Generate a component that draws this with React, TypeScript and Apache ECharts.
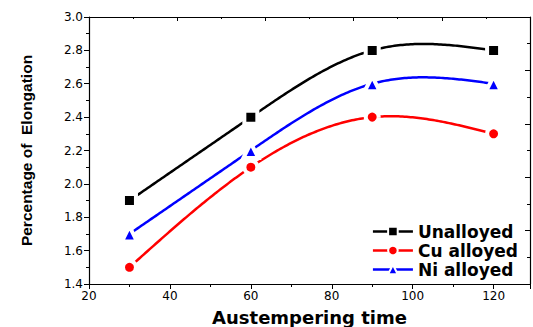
import React, { useEffect, useRef } from "react";
import * as echarts from "echarts";

const times = [30, 60, 90, 120];
const unalloyed = [1.9, 2.4, 2.8, 2.8];
const cuAlloyed = [1.5, 2.1, 2.4, 2.3];
const niAlloyed = [1.7, 2.2, 2.6, 2.6];
const seriesNames = ["Unalloyed", "Cu alloyed", "Ni alloyed"];

const SANS = "Liberation Sans, Arial, sans-serif";
const WIDE = "DejaVu Sans, Verdana, sans-serif";

const pairs = (ys: number[]) => times.map((t, i) => [t, ys[i]]);

// Natural cubic spline through (xs, ys); returns an evaluator.
function naturalSpline(xs: number[], ys: number[]) {
  const n = xs.length;
  const h: number[] = [];
  for (let i = 0; i < n - 1; i++) h.push(xs[i + 1] - xs[i]);
  const m = new Array(n).fill(0);
  const a = new Array(n).fill(0);
  const b = new Array(n).fill(1);
  const c = new Array(n).fill(0);
  const d = new Array(n).fill(0);
  for (let i = 1; i < n - 1; i++) {
    a[i] = h[i - 1];
    b[i] = 2 * (h[i - 1] + h[i]);
    c[i] = h[i];
    d[i] = 6 * ((ys[i + 1] - ys[i]) / h[i] - (ys[i] - ys[i - 1]) / h[i - 1]);
  }
  // Thomas algorithm
  for (let i = 1; i < n; i++) {
    const w = a[i] / b[i - 1];
    b[i] -= w * c[i - 1];
    d[i] -= w * d[i - 1];
  }
  m[n - 1] = d[n - 1] / b[n - 1];
  for (let i = n - 2; i >= 0; i--) m[i] = (d[i] - c[i] * m[i + 1]) / b[i];
  return (x: number) => {
    let k = 0;
    while (k < n - 2 && x > xs[k + 1]) k++;
    const hk = h[k];
    const t1 = xs[k + 1] - x;
    const t0 = x - xs[k];
    return (
      (m[k] * t1 * t1 * t1) / (6 * hk) +
      (m[k + 1] * t0 * t0 * t0) / (6 * hk) +
      (ys[k] / hk - (m[k] * hk) / 6) * t1 +
      (ys[k + 1] / hk - (m[k + 1] * hk) / 6) * t0
    );
  };
}

export default function App() {
  const ref = useRef<HTMLDivElement>(null);
  useEffect(() => {
    if (!ref.current) return;
    const chart = echarts.init(ref.current, null, { renderer: "svg" });
    const axisLine = { show: true, lineStyle: { color: "#000", width: 1.2 } };
    const tickStyle = { color: "#000", width: 1 };

    // Spline curve drawn through the axis scales of the main grid
    const curve = (ys: number[], color: string) => {
      const f = naturalSpline(times, ys);
      return {
        type: "custom",
        xAxisIndex: 0,
        yAxisIndex: 0,
        data: pairs(ys),
        encode: { x: 0, y: 1 },
        silent: true,
        z: 2,
        renderItem: (params: any, api: any) => {
          if (params.dataIndex !== 0) return null;
          const pts: number[][] = [];
          for (let x = times[0]; x <= times[times.length - 1]; x += 0.5) {
            pts.push(api.coord([x, f(x)]));
          }
          return {
            type: "polyline",
            shape: { points: pts },
            style: { stroke: color, lineWidth: 2.5, fill: null },
          };
        },
      };
    };

    const markers = (name: string, ys: number[], color: string, symbol: string, size: number) => ({
      name,
      type: "line",
      xAxisIndex: 0,
      yAxisIndex: 0,
      data: pairs(ys),
      symbol,
      symbolSize: size,
      showAllSymbol: true,
      lineStyle: { color, width: 2.5, opacity: 0 },
      itemStyle: { color, borderColor: "#fff", borderWidth: 4 },
      emphasis: { disabled: true },
      z: 3,
    });

    const colors = ["#000000", "#ff0000", "#0000ff"];

    chart.setOption({
      animation: false,
      backgroundColor: "#fff",
      grid: { left: 89, right: 3, top: 17, bottom: 43, outerBoundsMode: "none", containLabel: false },
      legend: {
        right: 10,
        top: 218,
        orient: "vertical",
        itemGap: 2,
        itemWidth: 40,
        itemHeight: 12,
        textStyle: { fontFamily: WIDE, fontWeight: "bold", fontSize: 17, color: "#000" },
        data: seriesNames.map((name, i) => ({
          name,
          lineStyle: { color: colors[i], width: 2.5, opacity: 1 },
          itemStyle: { color: colors[i], borderColor: "#fff", borderWidth: 2 },
        })),
      },
      xAxis: [
        {
          type: "value",
          min: 20,
          max: 129,
          interval: 20,
          position: "bottom",
          axisLine,
          axisTick: { show: true, inside: false, length: 5, lineStyle: tickStyle },
          minorTick: { show: true, splitNumber: 2, length: 3, lineStyle: tickStyle },
          splitLine: { show: false },
          axisLabel: { showMaxLabel: false, fontFamily: WIDE, fontSize: 12, color: "#000", margin: 6 },
          name: "Austempering time",
          nameLocation: "middle",
          nameGap: 24,
          nameTextStyle: { fontFamily: WIDE, fontWeight: "bold", fontSize: 18, color: "#000" },
        },
        {
          type: "value",
          min: 0,
          max: 5,
          interval: 1,
          position: "top",
          axisLine,
          axisTick: { show: true, inside: true, length: 4, lineStyle: tickStyle },
          minorTick: { show: true, splitNumber: 2, length: 2, lineStyle: tickStyle },
          splitLine: { show: false },
          axisLabel: { show: false },
        },
      ],
      yAxis: [
        {
          type: "value",
          min: 1.4,
          max: 3.0,
          interval: 0.2,
          position: "left",
          axisLine,
          axisTick: { show: true, inside: false, length: 5, lineStyle: tickStyle },
          minorTick: { show: true, splitNumber: 2, length: 3, lineStyle: tickStyle },
          splitLine: { show: false },
          axisLabel: {
            fontFamily: WIDE,
            fontSize: 12,
            color: "#000",
            margin: 6,
            formatter: (v: number) => v.toFixed(1),
          },
          name: "Percentage of  Elongation",
          nameLocation: "middle",
          nameGap: 55,
          nameTextStyle: { fontFamily: SANS, fontWeight: "bold", fontSize: 15.5, color: "#000" },
        },
        {
          type: "value",
          min: 0,
          max: 5,
          interval: 1,
          position: "right",
          axisLine,
          axisTick: { show: true, inside: true, length: 5, lineStyle: tickStyle },
          minorTick: { show: true, splitNumber: 2, length: 3, lineStyle: tickStyle },
          splitLine: { show: false },
          axisLabel: { show: false },
        },
      ],
      series: [
        curve(unalloyed, colors[0]),
        curve(cuAlloyed, colors[1]),
        curve(niAlloyed, colors[2]),
        markers(seriesNames[0], unalloyed, colors[0], "rect", 13),
        markers(seriesNames[1], cuAlloyed, colors[1], "circle", 13),
        markers(seriesNames[2], niAlloyed, colors[2], "triangle", 15),
      ],
    });
    return () => chart.dispose();
  }, []);
  return <div ref={ref} style={{ width: 533, height: 327, position: "absolute", left: 0, top: 0 }} />;
}
